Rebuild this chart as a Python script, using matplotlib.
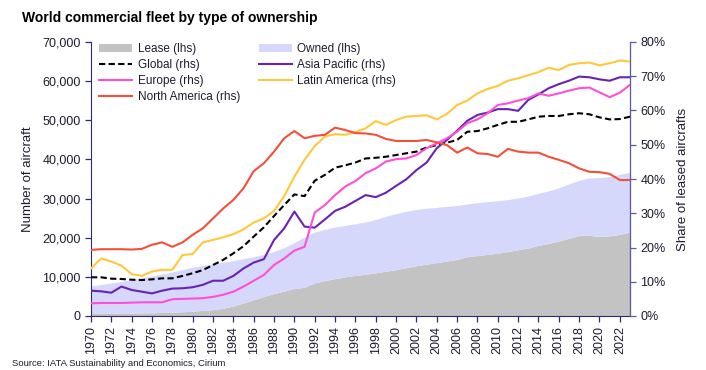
import matplotlib.pyplot as plt
from matplotlib.ticker import FuncFormatter
from matplotlib import font_manager

# years on the x axis
years = list(range(1970, 2024))

# number of aircraft (lhs), stacked
lease = [500, 520, 550, 580, 620, 660, 700, 760, 850, 950,
         1100, 1300, 1500, 1800, 2400, 3200, 4000, 4800, 5600, 6200,
         6900, 7200, 8300, 8900, 9400, 9850, 10250, 10500, 10900, 11300,
         11700, 12200, 12700, 13100, 13500, 13900, 14300, 15000, 15300, 15600,
         15900, 16300, 16800, 17200, 17900, 18400, 19000, 19700, 20400, 20500,
         20200, 20300, 20700, 21300]
owned = [7000, 7380, 7750, 8120, 8480, 8940, 9400, 9840, 10250, 10750,
         11200, 11500, 11700, 11800, 11600, 11300, 11000, 10800, 10700, 11100,
         11700, 12800, 13000, 13100, 13200, 13150, 13150, 13400, 13600, 14000,
         14300, 14400, 14400, 14300, 14100, 14000, 13800, 13500, 13500, 13500,
         13400, 13300, 13200, 13300, 13300, 13400, 13600, 13900, 14100, 14600,
         15000, 15200, 15300, 15300]

# share of leased aircraft (rhs), in %
global_share = [11.3, 11.3, 10.9, 10.8, 10.6, 10.5, 10.7, 11.0, 11.0, 11.7,
                12.5, 13.4, 14.9, 16.4, 18.3, 20.4, 23.2, 25.9, 29.2, 32.4,
                35.5, 35.0, 39.5, 41.2, 43.3, 44.0, 44.8, 46.0, 46.2, 46.5,
                47.0, 47.5, 48.0, 49.2, 49.9, 50.6, 51.4, 53.8, 54.0, 54.8,
                55.8, 56.7, 56.7, 57.4, 58.2, 58.4, 58.4, 58.9, 59.2, 58.9,
                58.0, 57.4, 57.5, 58.2]
asia_pacific = [7.4, 7.2, 6.8, 8.6, 7.6, 7.1, 6.6, 7.4, 8.0, 8.1,
                8.4, 9.1, 10.3, 10.3, 11.7, 13.9, 15.6, 16.6, 22.2, 25.6,
                30.5, 26.1, 25.8, 28.2, 30.7, 31.9, 33.6, 35.3, 34.7, 36.0,
                38.0, 39.9, 42.6, 44.8, 49.0, 51.4, 54.1, 57.0, 58.7, 59.4,
                60.4, 60.4, 59.9, 63.1, 64.7, 66.5, 67.7, 68.7, 69.9, 69.7,
                69.1, 68.7, 69.7, 69.7]
europe = [3.7, 3.8, 3.8, 3.8, 3.9, 4.0, 4.0, 4.0, 4.9, 5.0,
          5.1, 5.2, 5.6, 6.2, 7.1, 8.6, 10.3, 12.0, 14.9, 16.8,
          19.1, 20.2, 30.2, 32.4, 35.3, 37.8, 39.4, 41.7, 43.1, 45.1,
          45.8, 46.0, 47.0, 49.0, 50.4, 51.9, 53.8, 56.3, 57.4, 59.2,
          61.6, 62.1, 62.9, 63.6, 65.0, 64.3, 65.0, 65.8, 66.5, 66.7,
          65.3, 63.9, 65.2, 67.5]
latin_america = [13.9, 16.8, 15.9, 14.7, 12.2, 11.7, 13.0, 13.5, 13.5, 17.8,
                 18.1, 21.5, 22.2, 23.0, 23.9, 25.3, 27.3, 28.5, 30.7, 35.0,
                 40.7, 45.6, 49.6, 52.4, 53.1, 52.9, 53.7, 54.8, 56.9, 55.8,
                 57.2, 58.2, 58.4, 58.6, 57.4, 59.0, 61.6, 62.9, 65.0, 66.3,
                 67.2, 68.7, 69.4, 70.3, 71.2, 72.5, 71.8, 73.3, 73.8, 74.0,
                 73.2, 73.8, 74.6, 74.3]
north_america = [19.3, 19.5, 19.5, 19.5, 19.4, 19.6, 20.8, 21.5, 20.2, 21.5,
                 23.7, 25.6, 28.5, 31.4, 33.9, 37.3, 42.3, 44.6, 48.0, 51.9,
                 54.0, 51.9, 52.6, 52.9, 55.0, 54.3, 53.4, 53.3, 52.9, 51.7,
                 51.1, 51.1, 51.1, 51.4, 50.7, 49.9, 47.7, 49.2, 47.5, 47.3,
                 46.5, 48.8, 48.0, 47.7, 47.7, 46.5, 45.6, 44.6, 43.1, 42.1,
                 42.0, 41.5, 39.7, 39.7]

plt.rcParams['font.family'] = ['Liberation Sans', 'DejaVu Sans']
navy = '#2b2b7a'
text_col = '#1c1c2e'

# narrow font for the title if it is there
names = {f.name for f in font_manager.fontManager.ttflist}
if 'Liberation Sans Narrow' in names:
    title_font, title_size = 'Liberation Sans Narrow', 12
else:
    title_font, title_size = 'Liberation Sans', 10

fig = plt.figure(figsize=(7.06, 3.70), dpi=100)
ax = fig.add_axes([91 / 706, 1 - 316 / 370, 539 / 706, 274 / 370])
ax2 = ax.twinx()

areas = ax.stackplot(years, lease, owned, colors=['#c3c3c3', '#d5d8fb'],
                     labels=['Lease (lhs)', 'Owned (lhs)'], linewidth=0)

lw = 1.5
l_glob, = ax2.plot(years, global_share, color='black', lw=lw, ls=(0, (3, 1.6)), label='Global (rhs)')
l_asia, = ax2.plot(years, asia_pacific, color='#6a23b0', lw=lw, label='Asia Pacific (rhs)')
l_eur, = ax2.plot(years, europe, color='#ff4fd6', lw=lw, label='Europe (rhs)')
l_lat, = ax2.plot(years, latin_america, color='#ffc83c', lw=lw, label='Latin America (rhs)')
l_na, = ax2.plot(years, north_america, color='#f2503a', lw=lw, label='North America (rhs)')

ax.set_xlim(1970, 2023)
ax.set_ylim(0, 70000)
ax2.set_ylim(0, 80)
ax.set_yticks(range(0, 70001, 10000))
ax2.set_yticks(range(0, 81, 10))
ax.yaxis.set_major_formatter(FuncFormatter(lambda v, p: f'{int(v):,}'))
ax2.yaxis.set_major_formatter(FuncFormatter(lambda v, p: f'{int(v)}%'))
ax.set_xticks(range(1970, 2023, 2))
ax.set_xticklabels([str(y) for y in range(1970, 2023, 2)], rotation=90)

for a in (ax, ax2):
    a.spines['top'].set_visible(False)
    a.tick_params(labelsize=9, colors=text_col, length=4, width=0.9)
ax.spines['left'].set_color(navy)
ax.spines['bottom'].set_color(navy)
ax2.spines['left'].set_visible(False)
ax2.spines['bottom'].set_visible(False)
ax2.spines['right'].set_color('#5a5aa8')
ax.tick_params(axis='both', color=navy)
ax2.tick_params(axis='y', color='#5a5aa8')

ax.set_ylabel('Number of aircraft', fontsize=9.5, color=text_col, labelpad=6)
ax2.set_ylabel('Share of leased aircrafts', fontsize=9.5, color=text_col, labelpad=8)

# legend in row order like the original (2 columns, filled column by column)
handles = [areas[0], l_glob, l_eur, l_na, areas[1], l_asia, l_lat]
labels = [h.get_label() for h in handles]
leg = ax2.legend(handles, labels, ncol=2, loc='upper left', bbox_to_anchor=(0.0, 1.025),
                 frameon=False, fontsize=8.5, handlelength=2.8, handletextpad=0.45,
                 columnspacing=1.6, labelspacing=0.33, borderaxespad=0.3)
for t in leg.get_texts():
    t.set_color(text_col)

fig.text(22 / 706, 1 - 18 / 370, 'World commercial fleet by type of ownership',
         fontsize=title_size, fontweight='bold', family=title_font,
         color='black', va='center', ha='left')
fig.text(12 / 706, 1 - 364 / 370, 'Source: IATA Sustainability and Economics, Cirium',
         fontsize=6.8, color=text_col, va='center', ha='left')

fig.savefig('out.png', dpi=100)
